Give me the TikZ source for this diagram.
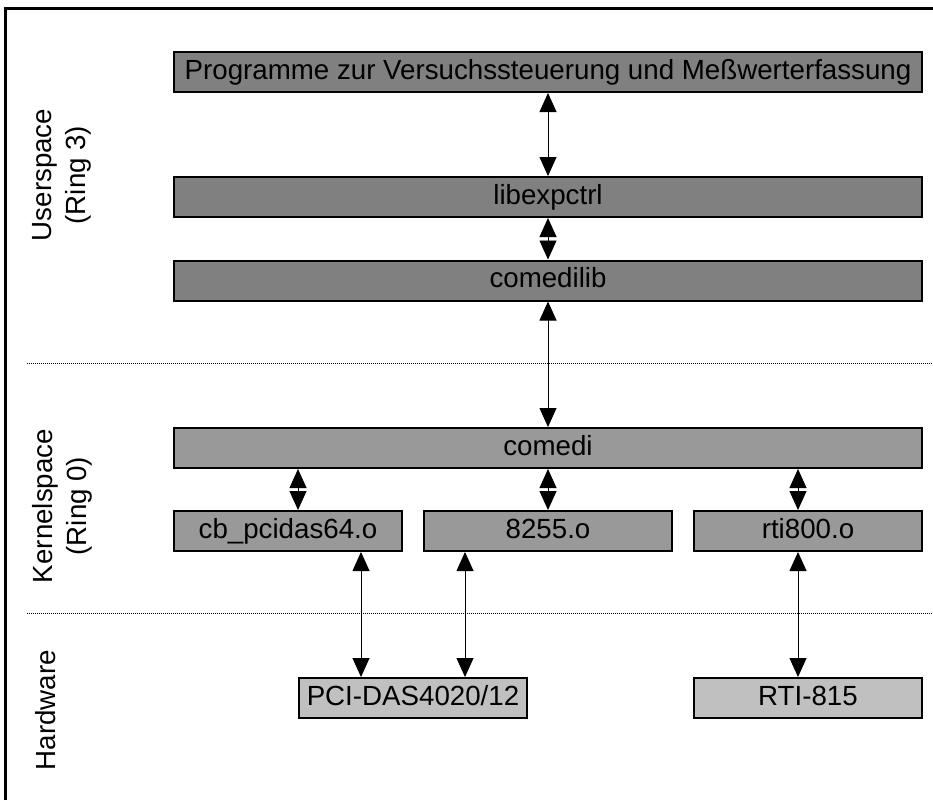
\documentclass[tikz,border=0pt]{standalone}
\usepackage{fontspec}
\setmainfont{Liberation Sans}
\usepackage{tikz}
\usetikzlibrary{arrows.meta, positioning, calc}
\definecolor{userfill}{HTML}{808080}
\definecolor{kernelfill}{HTML}{999999}
\definecolor{hwfill}{HTML}{C0C0C0}
\tikzset{
    layerbox/.style={draw, line width=2pt, inner sep=0pt, minimum height=40pt,
        text height=20pt, text depth=6pt},
    userbox/.style={layerbox, fill=userfill, minimum width=748pt},
    kernelbox/.style={layerbox, fill=kernelfill},
    hwbox/.style={layerbox, fill=hwfill, minimum width=228pt},
    biarrow/.style={{Triangle[length=19pt,width=17pt]}-{Triangle[length=19pt,width=17pt]}, line width=0.9pt},
    sepline/.style={line width=0.9pt, dash pattern=on 1pt off 1pt},
    sidelabel/.style={rotate=90, align=center},
    every node/.style={font=\fontsize{27.7}{34}\selectfont}
}
\begin{document}
\begin{tikzpicture}[x=1pt, y=-1pt]
    \useasboundingbox (0,0) rectangle (933,800);
    % frame
    \draw[line width=3pt] (5,800) -- (5,9) -- (933,9);
    % layer separators
    \draw[sepline] (27,363) -- (933,363);
    \draw[sepline] (27,613) -- (933,613);
    % side labels
    \node[sidelabel] (userlbl) at (62,175) {Userspace\\(Ring 3)};
    \node[sidelabel] (kernlbl) at (62,506) {Kernelspace\\(Ring 0)};
    \node[sidelabel] (hwlbl) at (46,710) {Hardware};
    % Userspace
    \node[userbox] (prog) at (548,72) {Programme zur Versuchssteuerung und Meßwerterfassung};
    \node[userbox] (libexp) at (548,197) {libexpctrl};
    \node[userbox] (clib) at (548,280.5) {comedilib};
    % Kernelspace
    \node[kernelbox, minimum width=748pt] (comedi) at (548,448) {comedi};
    \node[kernelbox, minimum width=228pt] (cbdrv) at (288,531) {cb\_pcidas64.o};
    \node[kernelbox, minimum width=248pt] (drv8255) at (548,531) {8255.o};
    \node[kernelbox, minimum width=228pt] (rtidrv) at (808,531) {rti800.o};
    % Hardware
    \node[hwbox] (pcidas) at (413,698) {PCI-DAS4020/12};
    \node[hwbox] (rtihw) at (808,698) {RTI-815};
    % connections
    \draw[biarrow] (prog) -- (libexp);
    \draw[biarrow] (libexp) -- (clib);
    \draw[biarrow] (clib) -- (comedi);
    \draw[biarrow] ([xshift=10pt]cbdrv.north) -- ([xshift=10pt]cbdrv.north |- comedi.south);
    \draw[biarrow] (drv8255) -- (comedi);
    \draw[biarrow] ([xshift=-10pt]rtidrv.north) -- ([xshift=-10pt]rtidrv.north |- comedi.south);
    \draw[biarrow] ([xshift=-52pt]pcidas.north) -- ([xshift=-52pt]pcidas.north |- cbdrv.south);
    \draw[biarrow] ([xshift=52pt]pcidas.north) -- ([xshift=52pt]pcidas.north |- drv8255.south);
    \draw[biarrow] ([xshift=-10pt]rtihw.north) -- ([xshift=-10pt]rtihw.north |- rtidrv.south);
\end{tikzpicture}
\end{document}
